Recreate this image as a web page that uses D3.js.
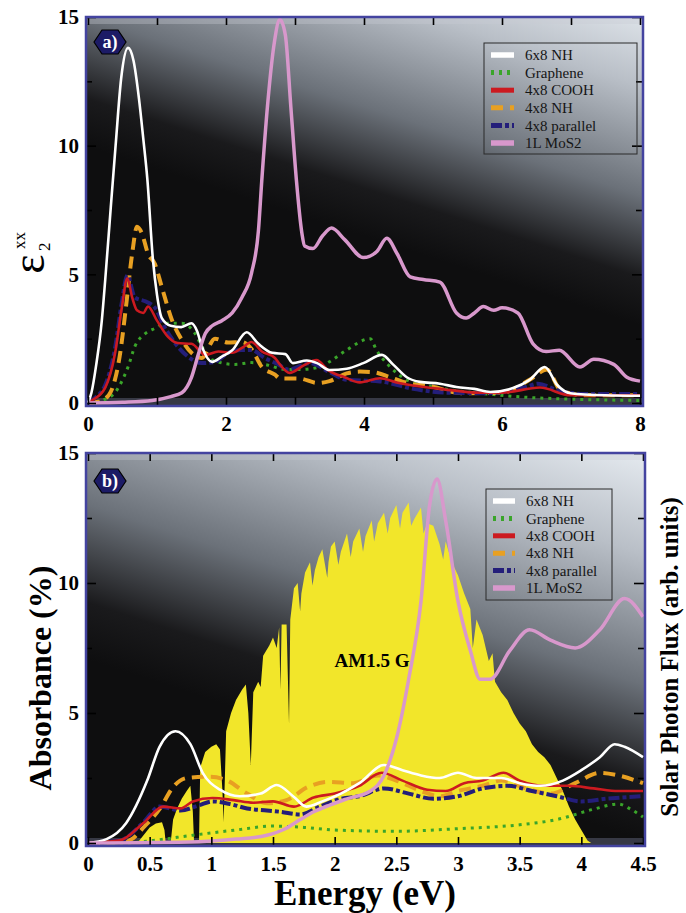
<!DOCTYPE html>
<html>
<head>
<meta charset="utf-8">
<script src="https://cdn.jsdelivr.net/npm/d3@7"></script>
<style>
	body { margin: 0; background: #ffffff; }
	svg { display: block; }
</style>
</head>
<body>
<script>
// Dielectric function (a) and absorbance vs solar spectrum (b)

var serif = "'Liberation Serif', 'Times New Roman', serif";

// ---- data: panel a, eps2 xx vs energy (eV) ----
var a_6x8NH = [[0,0],[0.05,0.4],[0.12,1.5],[0.2,3.2],[0.25,4.8],[0.33,7.6],[0.4,10],[0.48,12.6],[0.58,13.8],[0.66,13.3],[0.74,11.8],[0.8,10.3],[0.86,8.7],[0.94,5.6],[1.0,4.2],[1.07,3.3],[1.2,3.0],[1.35,2.95],[1.5,3.1],[1.58,2.8],[1.65,2.2],[1.8,1.6],[1.94,1.8],[2.09,2.05],[2.3,2.75],[2.47,2.3],[2.67,1.95],[2.86,1.9],[2.97,1.55],[3.17,1.65],[3.32,1.55],[3.5,1.28],[3.75,1.33],[3.99,1.55],[4.26,1.87],[4.42,1.5],[4.62,1.0],[4.81,0.82],[5.1,0.75],[5.34,0.62],[5.6,0.55],[5.83,0.43],[6.16,0.58],[6.4,0.9],[6.62,1.4],[6.8,0.7],[6.99,0.38],[7.5,0.3],[8,0.28]];
var a_graphene = [[0,0],[0.2,0.1],[0.39,0.4],[0.5,0.9],[0.58,1.4],[0.68,2.2],[0.83,2.7],[0.97,2.9],[1.12,3.1],[1.36,3.1],[1.55,2.7],[1.65,2.2],[1.8,1.67],[2.13,1.5],[2.37,1.57],[2.61,1.47],[2.86,1.3],[3.07,1.3],[3.36,1.4],[3.5,1.6],[3.75,2.06],[4.09,2.5],[4.18,2.06],[4.38,1.4],[4.62,0.9],[4.96,0.65],[5.43,0.45],[5.8,0.35],[6.2,0.25],[7,0.15],[8,0.1]];
var a_4x8COOH = [[0,0],[0.06,0.1],[0.25,0.6],[0.39,1.9],[0.49,3.7],[0.57,4.85],[0.64,4.1],[0.71,3.6],[0.8,3.5],[0.87,3.75],[1.0,3.2],[1.16,2.57],[1.3,2.33],[1.5,2.3],[1.7,1.87],[1.89,2.0],[2.09,1.95],[2.23,2.14],[2.37,2.37],[2.52,2.0],[2.71,1.75],[2.78,1.5],[2.92,1.17],[3.14,1.48],[3.31,1.67],[3.48,1.28],[3.72,1.0],[3.94,0.8],[4.23,0.96],[4.47,0.8],[4.71,0.68],[5.1,0.55],[5.68,0.4],[6.0,0.4],[6.55,0.6],[6.99,0.3],[8,0.3]];
var a_4x8NH = [[0,0],[0.15,0.05],[0.3,0.3],[0.39,0.9],[0.47,2.0],[0.54,3.5],[0.64,5.8],[0.71,6.85],[0.78,6.6],[0.87,5.8],[0.97,5.4],[1.07,4.5],[1.22,3.2],[1.36,2.45],[1.5,1.95],[1.65,1.75],[1.84,2.5],[2.03,2.35],[2.23,2.37],[2.37,2.1],[2.52,1.4],[2.71,1.1],[2.78,0.96],[3.07,0.95],[3.32,0.78],[3.5,0.85],[3.75,1.15],[3.94,1.22],[4.13,1.2],[4.38,1.0],[4.62,0.78],[4.96,0.65],[5.43,0.38],[6.0,0.4],[6.4,0.9],[6.65,1.3],[6.85,0.5],[7.2,0.3],[8,0.3]];
var a_4x8parallel = [[0,0],[0.1,0.2],[0.25,0.7],[0.39,2.1],[0.49,3.9],[0.57,4.95],[0.68,4.1],[0.83,3.95],[0.97,3.7],[1.12,2.9],[1.26,2.33],[1.45,1.8],[1.65,1.55],[1.84,1.6],[2.03,1.95],[2.23,2.06],[2.37,2.06],[2.56,1.75],[2.76,1.5],[2.9,1.3],[3.22,1.55],[3.5,1.2],[3.75,0.9],[4.23,0.84],[4.71,0.55],[5.2,0.4],[5.8,0.38],[6.38,0.65],[6.52,0.75],[6.8,0.5],[7.2,0.35],[8,0.35]];
var a_MoS2 = [[0,0],[0.5,0.03],[0.93,0.1],[1.2,0.25],[1.36,0.4],[1.5,1.0],[1.6,1.9],[1.7,2.7],[1.8,3.0],[1.94,3.2],[2.09,3.5],[2.23,4.1],[2.37,5.05],[2.47,6.7],[2.52,8.7],[2.6,11.5],[2.7,14.0],[2.78,14.9],[2.86,14.3],[2.94,11.5],[3.02,8.67],[3.1,6.6],[3.14,6.1],[3.26,6.0],[3.4,6.5],[3.53,6.8],[3.72,6.35],[3.99,5.65],[4.19,5.9],[4.33,6.4],[4.48,5.8],[4.67,4.9],[4.86,4.8],[5.1,4.7],[5.34,3.5],[5.48,3.3],[5.6,3.5],[5.73,3.75],[5.88,3.6],[6.0,3.7],[6.23,3.5],[6.45,2.3],[6.64,2.0],[6.83,2.05],[7.13,1.4],[7.33,1.7],[7.62,1.5],[7.81,1.0],[8.0,0.85]];

// ---- data: panel b, absorbance (%) vs energy (eV) ----
var b_6x8NH = [[0,0],[0.15,0.15],[0.31,0.77],[0.48,2.4],[0.58,3.7],[0.71,4.3],[0.83,3.8],[0.93,2.7],[1.07,2.05],[1.23,1.8],[1.4,1.9],[1.53,2.23],[1.67,1.77],[1.77,1.4],[1.9,1.6],[2.05,1.9],[2.2,2.3],[2.4,3.0],[2.55,2.8],[2.7,2.6],[2.85,2.5],[3.0,2.7],[3.15,2.5],[3.35,2.5],[3.5,2.3],[3.67,2.2],[3.85,2.4],[4.0,2.8],[4.15,3.3],[4.27,3.8],[4.35,3.7],[4.5,3.3]];
var b_graphene = [[0,0],[0.3,0],[0.53,0.1],[0.85,0.3],[1.2,0.5],[1.5,0.65],[1.75,0.6],[2.0,0.5],[2.5,0.45],[3.0,0.55],[3.5,0.7],[3.8,0.9],[4.1,1.3],[4.3,1.5],[4.4,1.3],[4.5,1.0]];
var b_4x8COOH = [[0,0],[0.26,0.1],[0.45,0.77],[0.61,1.4],[0.75,1.33],[0.85,1.6],[1.01,1.73],[1.18,1.65],[1.34,1.55],[1.5,1.6],[1.67,1.4],[1.83,1.75],[2.0,1.9],[2.2,2.2],[2.38,2.7],[2.55,2.4],[2.75,2.05],[2.9,2.0],[3.05,2.3],[3.2,2.4],[3.37,2.7],[3.5,2.4],[3.7,2.2],[3.9,2.2],[4.1,2.1],[4.3,2.0],[4.5,2.0]];
var b_4x8NH = [[0,0],[0.3,0.05],[0.37,0.2],[0.45,0.6],[0.58,1.3],[0.69,2.15],[0.8,2.5],[0.99,2.55],[1.13,2.4],[1.29,1.9],[1.45,1.53],[1.61,1.65],[1.78,2.15],[1.95,2.35],[2.15,2.3],[2.35,2.6],[2.5,2.4],[2.7,2.0],[2.85,1.8],[3.0,2.0],[3.2,2.2],[3.35,2.4],[3.55,2.1],[3.75,1.9],[3.95,2.3],[4.15,2.7],[4.3,2.6],[4.5,2.3]];
var b_4x8parallel = [[0,0],[0.26,0.1],[0.45,0.8],[0.58,1.4],[0.75,1.25],[0.9,1.45],[1.01,1.6],[1.15,1.5],[1.29,1.33],[1.45,1.25],[1.56,1.2],[1.72,1.1],[1.88,1.4],[2.05,1.7],[2.2,1.8],[2.4,2.1],[2.6,1.9],[2.8,1.7],[3.0,1.8],[3.2,2.1],[3.4,2.2],[3.6,2.0],[3.8,1.8],[4.0,1.6],[4.2,1.7],[4.5,1.8]];
var b_MoS2 = [[0,0],[0.9,0.05],[1.2,0.15],[1.45,0.3],[1.6,0.55],[1.72,0.9],[1.83,1.2],[1.96,1.46],[2.1,1.7],[2.29,2.0],[2.4,2.6],[2.5,4.0],[2.6,6.3],[2.7,9.3],[2.77,13.0],[2.83,14.0],[2.9,12.4],[3.0,9.3],[3.1,7.4],[3.18,6.3],[3.26,6.3],[3.42,7.4],[3.58,8.2],[3.75,7.8],[3.95,7.5],[4.15,8.2],[4.35,9.4],[4.5,8.7]];

// AM1.5 G photon flux, arbitrary units
var solarFlux = [[0.4,0],[0.45,0.3],[0.5,0.6],[0.55,0.75],[0.6,0.8],[0.62,0.5],[0.63,0],[0.67,0],[0.69,0.9],[0.72,1.3],[0.76,1.7],[0.8,2.0],[0.83,2.2],[0.85,1.2],[0.86,0],[0.9,0],[0.91,2.9],[0.95,3.5],[1.0,3.7],[1.04,3.8],[1.07,3.6],[1.09,2.0],[1.1,0.8],[1.12,4.3],[1.16,5.0],[1.2,5.5],[1.25,5.9],[1.28,6.1],[1.3,5.0],[1.32,3.0],[1.34,5.8],[1.38,6.2],[1.4,6.0],[1.42,7.2],[1.47,7.6],[1.5,7.9],[1.53,7.5],[1.55,8.3],[1.56,5.9],[1.57,8.4],[1.61,8.4],[1.63,4.6],[1.64,8.6],[1.67,9.8],[1.7,10.0],[1.72,8.9],[1.73,9.6],[1.76,10.4],[1.8,10.8],[1.82,9.9],[1.84,10.5],[1.87,11.0],[1.9,11.3],[1.94,10.2],[1.95,10.8],[1.97,11.4],[2.0,11.6],[2.03,10.7],[2.05,11.2],[2.1,11.9],[2.13,11.0],[2.15,11.6],[2.2,12.1],[2.23,11.2],[2.25,11.8],[2.3,12.4],[2.32,11.6],[2.35,12.3],[2.4,12.7],[2.43,11.9],[2.45,12.5],[2.5,13.0],[2.53,12.1],[2.55,12.7],[2.6,13.1],[2.62,12.2],[2.65,12.5],[2.7,12.9],[2.72,11.9],[2.75,12.3],[2.8,12.2],[2.85,11.5],[2.88,10.9],[2.9,11.6],[2.95,10.8],[3.0,10.3],[3.05,9.6],[3.1,9.0],[3.12,7.5],[3.15,8.6],[3.2,8.0],[3.25,7.0],[3.28,7.3],[3.3,6.2],[3.35,5.8],[3.4,5.5],[3.45,5.0],[3.5,4.6],[3.55,4.3],[3.6,3.8],[3.65,3.5],[3.7,3.3],[3.75,3.0],[3.8,2.5],[3.85,2.0],[3.9,1.4],[3.95,0.9],[4.0,0.5],[4.05,0.1],[4.08,0]];

var legendNames = ['6x8 NH', 'Graphene', '4x8 COOH', '4x8 NH', '4x8 parallel', '1L MoS2'];
var ticksA = [0, 2, 4, 6, 8];
var minorTicksA = [1, 3, 5, 7];
var ticksB = [0, 0.5, 1, 1.5, 2, 2.5, 3, 3.5, 4, 4.5];
var yTicks = [0, 5, 10, 15];
var yMinorTicks = [2.5, 7.5, 12.5];

// line looks, same order as legendNames
var looks = [
	{ color: '#ffffff', width: 2.6, dash: null },
	{ color: '#3aa52a', width: 3, dash: '3,5' },
	{ color: '#cc1a20', width: 2.6, dash: null },
	{ color: '#e8a022', width: 4, dash: '12,7' },
	{ color: '#241e7a', width: 4, dash: '11,3,4,3' },
	{ color: '#d898cc', width: 3.5, dash: null }
];
var drawOrder = [1, 3, 4, 2, 0, 5];

var svg = d3.select('body').append('svg')
	.attr('width', 686)
	.attr('height', 913);

var defs = svg.append('defs');

drawPanel({
	id: 'a',
	left: 86, right: 643, top: 17, bottom: 406,
	x: d3.scaleLinear().domain([0, 8]).range([88, 640]),
	y: d3.scaleLinear().domain([0, 15]).range([403, 17]),
	xTicks: ticksA, xMinor: minorTicksA,
	series: [a_6x8NH, a_graphene, a_4x8COOH, a_4x8NH, a_4x8parallel, a_MoS2],
	grad: [600, -30, 500, 280],
	legend: { x: 484, y: 43, w: 153, h: 111, row: 17.6, sw: 23 },
	badge: [110, 42],
	label: 'a)'
});

drawPanel({
	id: 'b',
	left: 86, right: 645, top: 453, bottom: 846,
	x: d3.scaleLinear().domain([0, 4.5]).range([88, 643]),
	y: d3.scaleLinear().domain([0, 15]).range([843, 453]),
	xTicks: ticksB, xMinor: [],
	series: [b_6x8NH, b_graphene, b_4x8COOH, b_4x8NH, b_4x8parallel, b_MoS2],
	solar: solarFlux,
	grad: [640, 430, 520, 800],
	legend: { x: 486, y: 489, w: 126, h: 111, row: 17.4, sw: 22 },
	badge: [110, 481],
	label: 'b)'
});

// axis titles
var eps = svg.append('g').attr('transform', 'translate(44,264) rotate(-90)')
	.style('font-family', serif);
eps.append('text').attr('x', 0).attr('y', 0)
	.attr('text-anchor', 'middle')
	.style('font-size', '46px')
	.text('ε');
eps.append('text').attr('x', 13).attr('y', 6)
	.style('font-size', '17px')
	.text('2');
eps.append('text').attr('x', 15).attr('y', -19)
	.style('font-size', '17px')
	.text('xx');

svg.append('text')
	.attr('transform', 'translate(51,678) rotate(-90)')
	.attr('text-anchor', 'middle')
	.style('font-family', serif).style('font-weight', 'bold').style('font-size', '32px')
	.text('Absorbance (%)');

svg.append('text')
	.attr('transform', 'translate(678,657) rotate(-90)')
	.attr('text-anchor', 'middle')
	.style('font-family', serif).style('font-weight', 'bold').style('font-size', '25px')
	.text('Solar Photon Flux (arb. units)');

svg.append('text')
	.attr('x', 365).attr('y', 905)
	.attr('text-anchor', 'middle')
	.style('font-family', serif).style('font-weight', 'bold').style('font-size', '35px')
	.text('Energy (eV)');


function drawPanel(p){

	var x = p.x, y = p.y;
	var g = svg.append('g').attr('id', 'panel-' + p.id);

	// glossy background
	var grad = defs.append('linearGradient')
		.attr('id', 'bg-' + p.id)
		.attr('gradientUnits', 'userSpaceOnUse')
		.attr('x1', p.grad[0]).attr('y1', p.grad[1])
		.attr('x2', p.grad[2]).attr('y2', p.grad[3]);
	[[0, '#eef3f8'], [0.3, '#b9bfc7'], [0.62, '#6b7179'], [0.86, '#1a1a1c'], [1, '#0e0e0f']]
		.forEach(function(s){
			grad.append('stop').attr('offset', s[0]).attr('stop-color', s[1]);
		});

	defs.append('clipPath').attr('id', 'clip-' + p.id)
		.append('rect')
		.attr('x', p.left).attr('y', p.top)
		.attr('width', p.right - p.left).attr('height', p.bottom - p.top);

	g.append('rect')
		.attr('x', p.left).attr('y', p.top)
		.attr('width', p.right - p.left).attr('height', p.bottom - p.top)
		.attr('fill', 'url(#bg-' + p.id + ')');

	// light bezel strips top and bottom
	g.append('rect')
		.attr('x', p.left).attr('y', p.top)
		.attr('width', p.right - p.left).attr('height', 7)
		.attr('fill', '#c8ccd4').attr('opacity', 0.35);
	g.append('rect')
		.attr('x', p.left).attr('y', y(0) - 5)
		.attr('width', p.right - p.left).attr('height', p.bottom - y(0) + 5)
		.attr('fill', '#6a6e88').attr('opacity', 0.45);

	var plot = g.append('g').attr('clip-path', 'url(#clip-' + p.id + ')');

	if(p.solar) {
		var yFlux = d3.scaleLinear().domain([0, 15]).range(y.range());
		plot.append('path')
			.datum(p.solar)
			.attr('fill', '#f2e62a')
			.attr('d', d3.area()
				.x(function(d){ return x(d[0]); })
				.y0(yFlux(0))
				.y1(function(d){ return yFlux(d[1]); }));
	}

	var line = d3.line()
		.x(function(d){ return x(d[0]); })
		.y(function(d){ return y(d[1]); })
		.curve(d3.curveMonotoneX);

	drawOrder.forEach(function(i){
		var look = looks[i];
		plot.append('path')
			.datum(p.series[i])
			.attr('fill', 'none')
			.attr('stroke', look.color)
			.attr('stroke-width', look.width)
			.attr('stroke-dasharray', look.dash)
			.attr('stroke-linejoin', 'round')
			.attr('d', line);
	});

	if(p.solar) {
		g.append('text')
			.attr('x', 372).attr('y', 667)
			.attr('text-anchor', 'middle')
			.style('font-family', serif).style('font-weight', 'bold').style('font-size', '19px')
			.text('AM1.5 G');
	}

	// ticks on all four sides, pointing in
	addAxis(g, d3.axisBottom(x).tickValues(p.xTicks).tickSize(-9).tickPadding(10)
		.tickFormat(d3.format('')), 0, p.bottom, 21);
	if(p.xMinor.length)
		addAxis(g, d3.axisBottom(x).tickValues(p.xMinor).tickSize(-9).tickFormat(''), 0, p.bottom);
	addAxis(g, d3.axisTop(x).tickValues(p.xTicks.concat(p.xMinor)).tickSize(-8).tickFormat(''), 0, p.top);
	addAxis(g, d3.axisLeft(y).tickValues(yTicks).tickSize(-10).tickPadding(7), p.left, 0, 21);
	addAxis(g, d3.axisLeft(y).tickValues(yMinorTicks).tickSize(-6).tickFormat(''), p.left, 0);
	addAxis(g, d3.axisRight(y).tickValues(yTicks).tickSize(-11).tickFormat(''), p.right, 0);
	addAxis(g, d3.axisRight(y).tickValues(yMinorTicks).tickSize(-7).tickFormat(''), p.right, 0);

	// frame
	g.append('rect')
		.attr('x', p.left).attr('y', p.top)
		.attr('width', p.right - p.left).attr('height', p.bottom - p.top)
		.attr('fill', 'none')
		.attr('stroke', '#4444a0')
		.attr('stroke-width', 2.5);

	drawLegend(g, p.legend);
	drawBadge(g, p.badge[0], p.badge[1], p.label);
}

function addAxis(g, axis, tx, ty, fontSize){

	var a = g.append('g')
		.attr('transform', 'translate(' + tx + ',' + ty + ')')
		.call(axis);
	a.select('.domain').remove();
	a.selectAll('line').attr('stroke', '#000').attr('stroke-width', 1.6);
	a.selectAll('text')
		.attr('fill', '#000')
		.style('font-family', serif)
		.style('font-weight', 'bold')
		.style('font-size', (fontSize || 10) + 'px');
	return a;

}

function drawLegend(g, L){

	var lg = g.append('g').attr('transform', 'translate(' + L.x + ',' + L.y + ')');
	lg.append('rect')
		.attr('width', L.w).attr('height', L.h)
		.attr('fill', 'none')
		.attr('stroke', '#2a2a2a')
		.attr('stroke-width', 1);

	legendNames.forEach(function(name, i){
		var look = looks[i];
		var cy = 12 + i * L.row;
		lg.append('line')
			.attr('x1', 7).attr('x2', 7 + L.sw)
			.attr('y1', cy).attr('y2', cy)
			.attr('stroke', look.color)
			.attr('stroke-width', i == 0 || i == 5 ? 5.5 : 5)
			.attr('stroke-dasharray', look.dash);
		lg.append('text')
			.attr('x', 7 + L.sw + 11).attr('y', cy)
			.attr('dy', '0.35em')
			.attr('fill', '#151515')
			.style('font-family', serif)
			.style('font-size', '15px')
			.text(name);
	});

}

function drawBadge(g, cx, cy, label){

	var pts = [[cx - 16, cy], [cx - 8, cy - 12], [cx + 8, cy - 12], [cx + 16, cy], [cx + 8, cy + 12], [cx - 8, cy + 12]];
	g.append('polygon')
		.attr('points', pts.map(function(q){ return q.join(','); }).join(' '))
		.attr('fill', '#1c1b66')
		.attr('stroke', '#000')
		.attr('stroke-width', 1.2);
	g.append('text')
		.attr('x', cx).attr('y', cy)
		.attr('dy', '0.36em')
		.attr('text-anchor', 'middle')
		.attr('fill', '#fff')
		.style('font-family', serif)
		.style('font-weight', 'bold')
		.style('font-size', '18px')
		.text(label);

}
</script>
</body>
</html>
